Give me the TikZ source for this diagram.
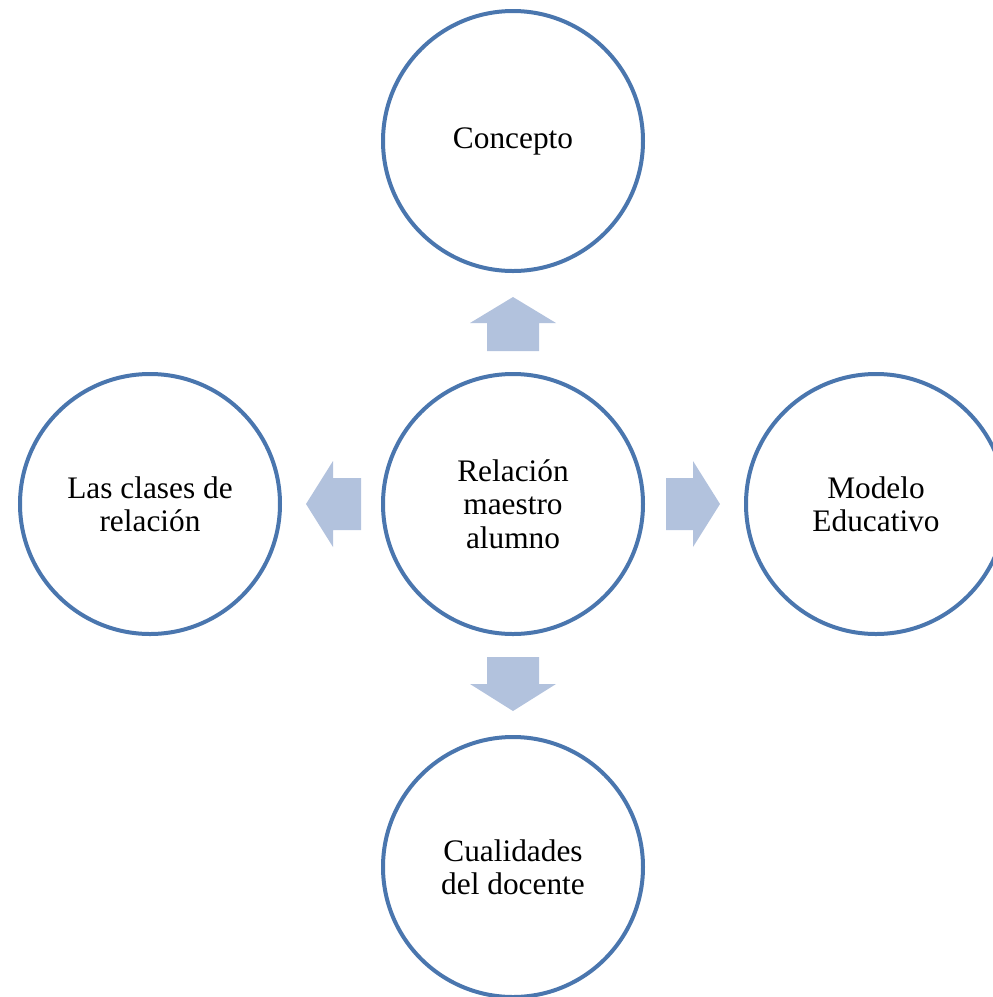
\documentclass[tikz,border=0pt]{standalone}
\usepackage{fontspec}
\setmainfont{Liberation Serif}
\definecolor{ringblue}{RGB}{74,118,174}
\definecolor{arrowfill}{RGB}{178,194,221}
\begin{document}
\begin{tikzpicture}[x=0.75pt,y=-0.75pt,
  ring/.style={circle,draw=ringblue,line width=3pt,fill=white,inner sep=0pt,
    minimum size=195pt,align=center,font=\fontsize{23.5}{25}\selectfont},
  blockarrow/.style={fill=arrowfill,draw=none}]
\useasboundingbox (0,0) rectangle (993,997);
\clip (0,0) rectangle (993,997);
\node[ring] (center) at (513,504) {Relación\\maestro\\alumno};
\node[ring] (top) at (513,141) {Concepto};
\node[ring] (left) at (150,504) {Las clases de\\relación};
\node[ring] (right) at (876,504) {Modelo\\Educativo};
\node[ring] (bottom) at (513,867) {Cualidades\\del docente};
% block arrows
\fill[blockarrow] (487,351) -- (487,323) -- (470,323) -- (513,297) -- (556,323) -- (539,323) -- (539,351) -- cycle;
\fill[blockarrow] (487,657) -- (539,657) -- (539,684) -- (556,684) -- (513,711) -- (470,684) -- (487,684) -- cycle;
\fill[blockarrow] (361,478) -- (333,478) -- (333,461) -- (306,504) -- (333,547) -- (333,530) -- (361,530) -- cycle;
\fill[blockarrow] (666,478) -- (693,478) -- (693,461) -- (720,504) -- (693,547) -- (693,530) -- (666,530) -- cycle;
\end{tikzpicture}
\end{document}
